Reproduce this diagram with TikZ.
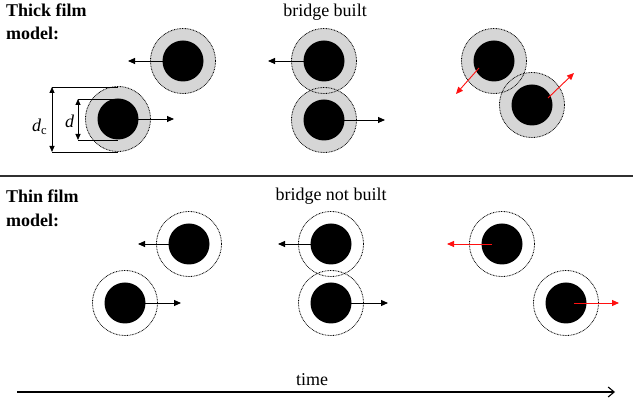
\documentclass[tikz,border=0pt]{standalone}
\usepackage{fontspec}
\IfFontExistsTF{LiberationSerif-Regular.ttf}{%
  \setmainfont{LiberationSerif}[Extension=.ttf,UprightFont=*-Regular,BoldFont=*-Bold,ItalicFont=*-Italic,BoldItalicFont=*-BoldItalic]}{%
  \setmainfont{Latin Modern Roman}}
\usetikzlibrary{arrows.meta}
\definecolor{shellgray}{HTML}{D6D6D6}
\definecolor{pushred}{HTML}{FF1010}
\definecolor{rulegray}{HTML}{303030}
\begin{document}
\begin{tikzpicture}[x=1pt,y=-1pt,
    shell/.style={circle,minimum size=65pt,inner sep=0pt,fill=shellgray},
    core/.style={circle,minimum size=41pt,inner sep=0pt,fill=black},
    film/.style={draw=black,line width=0.8pt,dash pattern=on 0.8pt off 0.8pt},
    move/.style={line width=0.9pt,-{Triangle[length=7pt,width=6pt]}},
    pushmove/.style={move,draw=pushred,-{Triangle[length=7pt,width=6pt,fill=pushred]}},
    dimline/.style={line width=0.8pt},
    dimarrow/.style={line width=0.8pt,{Triangle[length=6pt,width=5pt]}-{Triangle[length=6pt,width=5pt]}},
    lbl/.style={inner sep=0pt,font=\fontsize{18}{23}\selectfont},
    title/.style={inner sep=0pt,font=\fontsize{18}{23}\selectfont\bfseries,anchor=base west}]
\useasboundingbox (0,0) rectangle (633,403);

% ---------- thick film model ----------
\node[title] (thick1) at (6,17) {Thick film};
\node[title] (thick2) at (6,40) {model:};
\node[lbl,anchor=base] (built) at (325,17) {bridge built};

\node[shell] (a1) at (183,61) {};
\node[shell] (a2) at (118,119) {};
\node[shell] (b1) at (324,61) {};
\node[shell] (b2) at (324,120) {};
\node[shell] (c1) at (494,61) {};
\node[shell] (c2) at (532,105) {};

\foreach \n in {a1,a2,b1,b2,c1,c2}
  \draw[film] (\n.center) circle[radius=32.5pt];

\coordinate (a1t) at (128,61);
\coordinate (a2t) at (174,119);
\coordinate (b1t) at (268,61);
\coordinate (b2t) at (385,120);
\draw[move] (a1.center) -- (a1t);
\draw[move] (a2.center) -- (a2t);
\draw[move] (b1.center) -- (b1t);
\draw[move] (b2.center) -- (b2t);

\node[core] (a1c) at (a1) {};
\node[core] (a2c) at (a2) {};
\node[core] (b1c) at (b1) {};
\node[core] (b2c) at (b2) {};
\node[core] (c1c) at (c1) {};
\node[core] (c2c) at (c2) {};

\coordinate (c1s) at (479,68);
\coordinate (c1t) at (456,94);
\coordinate (c2s) at (548,98);
\coordinate (c2t) at (574,73);
\draw[pushmove] (c1s) -- (c1t);
\draw[pushmove] (c2s) -- (c2t);

% diameter dimensions
\coordinate (dcL1) at (52,87);   \coordinate (dcR1) at (118,87);
\coordinate (dcL2) at (52,152);  \coordinate (dcR2) at (118,152);
\coordinate (dL1) at (78,99);    \coordinate (dR1) at (118,99);
\coordinate (dL2) at (78,140);   \coordinate (dR2) at (118,140);
\draw[dimline] (dcL1) -- (dcR1);
\draw[dimline] (dcL2) -- (dcR2);
\draw[dimline] (dL1) -- (dR1);
\draw[dimline] (dL2) -- (dR2);
\draw[dimarrow] (dcL1) -- (dcL2);
\draw[dimarrow] (dL1) -- (dL2);
\node[lbl,anchor=base west] (dclabel) at (32,132) {\itshape d\/\textsubscript{\upshape c}};
\node[lbl,anchor=base west] (dlabel) at (65,128) {\itshape d};

% separator
\coordinate (sepL) at (0,176);
\coordinate (sepR) at (633,176);
\draw[rulegray,line width=1.4pt] (sepL) -- (sepR);

% ---------- thin film model ----------
\node[title] (thin1) at (6,203) {Thin film};
\node[title] (thin2) at (6,227) {model:};
\node[lbl,anchor=base] (notbuilt) at (331,201) {bridge not built};

\node[core] (d1) at (189,244) {};
\node[core] (d2) at (125,303) {};
\node[core] (e1) at (331,244) {};
\node[core] (e2) at (331,303) {};
\node[core] (f1) at (502,244) {};
\node[core] (f2) at (566,303) {};

\foreach \n in {d1,d2,e1,e2,f1,f2}
  \draw[film] (\n.center) circle[radius=32.5pt];

\coordinate (d1t) at (138,244);
\coordinate (d2t) at (181,303);
\coordinate (e1t) at (278,244);
\coordinate (e2t) at (388,303);
\draw[move] (d1.center) -- (d1t);
\draw[move] (d2.center) -- (d2t);
\draw[move] (e1.center) -- (e1t);
\draw[move] (e2.center) -- (e2t);

\coordinate (f1s) at (492,244);
\coordinate (f1t) at (447,244);
\coordinate (f2s) at (574,303);
\coordinate (f2t) at (619,303);
\draw[pushmove] (f1s) -- (f1t);
\draw[pushmove] (f2s) -- (f2t);

% ---------- time axis ----------
\coordinate (tL) at (17,392);
\coordinate (tR) at (615,392);
\draw[line width=1.1pt,-{Straight Barb[length=6pt,width=10pt]}] (tL) -- (tR);
\node[lbl,anchor=base] (time) at (312,386) {time};
\end{tikzpicture}
\end{document}
